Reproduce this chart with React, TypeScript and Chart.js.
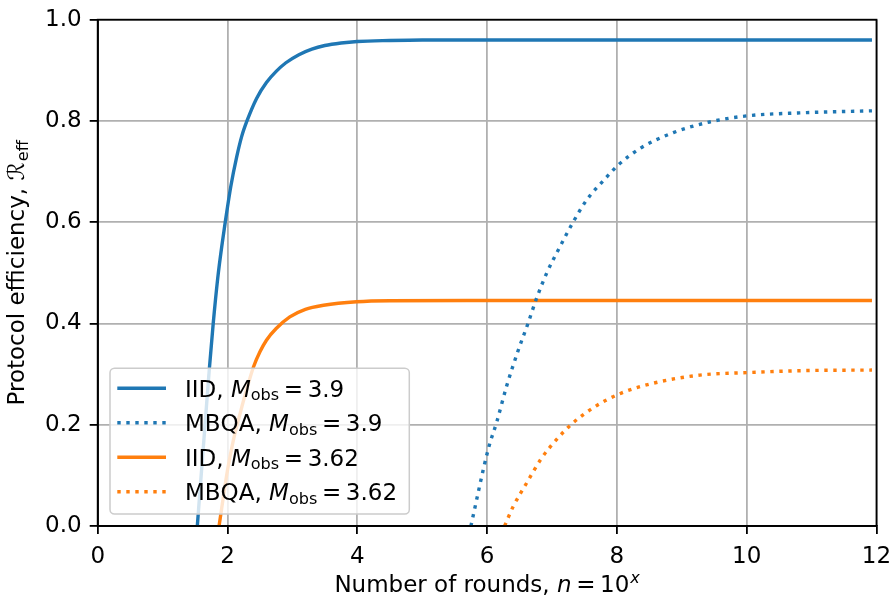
import React, { useEffect, useRef } from "react";
import { Chart, registerables } from "chart.js";

Chart.register(...registerables);

// ---------- data ----------
const iid39X = [1.535, 1.6, 1.66, 1.72, 1.78, 1.85, 1.92, 1.965, 2.05, 2.14, 2.22, 2.3, 2.45, 2.6, 2.75, 2.9, 3.1, 3.3, 3.5, 3.75, 4.0, 4.5, 5, 6, 8, 10, 11.93];
const iid39Y = [0, 0.11, 0.21, 0.31, 0.4, 0.49, 0.56, 0.6, 0.67, 0.728, 0.77, 0.8, 0.845, 0.876, 0.898, 0.915, 0.931, 0.942, 0.949, 0.954, 0.957, 0.959, 0.96, 0.96, 0.96, 0.96, 0.96];

const mbqa39X = [5.75, 6.02, 6.15, 6.3, 6.48, 6.63, 6.76, 6.92, 7.12, 7.32, 7.53, 7.82, 8.02, 8.36, 8.87, 9.43, 10.0, 10.82, 11.93];
const mbqa39Y = [0, 0.153, 0.206, 0.276, 0.347, 0.4, 0.449, 0.5, 0.551, 0.599, 0.643, 0.686, 0.713, 0.746, 0.777, 0.798, 0.81, 0.816, 0.82];

const iid362X = [1.87, 2.0, 2.09, 2.2, 2.3, 2.4, 2.5, 2.6, 2.75, 2.96, 3.2, 3.48, 3.99, 4.5, 6, 8, 11.93];
const iid362Y = [0, 0.11, 0.169, 0.225, 0.272, 0.314, 0.344, 0.367, 0.39, 0.413, 0.428, 0.436, 0.443, 0.445, 0.4455, 0.4455, 0.4455];

const mbqa362X = [6.27, 6.4, 6.61, 6.84, 7.1, 7.3, 7.64, 8.02, 8.56, 9.28, 10.0, 10.92, 11.93];
const mbqa362Y = [0, 0.038, 0.085, 0.134, 0.175, 0.201, 0.234, 0.26, 0.282, 0.298, 0.303, 0.307, 0.308];

const seriesProtocols = ["IID", "MBQA", "IID", "MBQA"];
const seriesMobs = ["3.9", "3.9", "3.62", "3.62"];
const seriesColors = ["#1f77b4", "#1f77b4", "#ff7f0e", "#ff7f0e"];
const seriesDotted = [false, true, false, true];

const xTicks = [0, 2, 4, 6, 8, 10, 12];
const yTicks = [0, 0.2, 0.4, 0.6, 0.8, 1.0];

// ---------- style ----------
const FONT = "'DejaVu Sans', sans-serif";
const FS = 23;
const LW = 3.4;
const DOT = [3.4, 5.6];

type Piece = { t: string; it?: boolean; sub?: boolean; sup?: boolean; gap?: number };

function pieceFont(p: Piece) {
  const size = p.sub || p.sup ? FS * 0.7 : FS;
  return `${p.it ? "italic " : ""}${size}px ${FONT}`;
}

function richWidth(ctx: CanvasRenderingContext2D, pieces: Piece[]) {
  let w = 0;
  for (const p of pieces) {
    ctx.font = pieceFont(p);
    w += (p.gap || 0) + ctx.measureText(p.t).width;
  }
  return w;
}

function drawRich(ctx: CanvasRenderingContext2D, x: number, y: number, pieces: Piece[]) {
  let cx = x;
  ctx.textBaseline = "alphabetic";
  ctx.textAlign = "left";
  for (const p of pieces) {
    cx += p.gap || 0;
    ctx.font = pieceFont(p);
    let dy = 0;
    if (p.sub) dy = FS * 0.17;
    if (p.sup) dy = -FS * 0.36;
    ctx.fillText(p.t, cx, y + dy);
    cx += ctx.measureText(p.t).width;
  }
}

const REL = FS * 0.2;

const decorPlugin = {
  id: "decor",
  afterDraw(chart: any) {
    const { ctx, chartArea } = chart;
    const { left, right, top, bottom } = chartArea;
    ctx.save();
    // frame (all four spines)
    ctx.strokeStyle = "#000";
    ctx.lineWidth = 1.8;
    ctx.strokeRect(left, top, right - left, bottom - top);

    // legend
    const lx = 110, ly = 368.3, lw = 299.3, lh = 145.7, r = 4.5;
    ctx.beginPath();
    ctx.moveTo(lx + r, ly);
    ctx.lineTo(lx + lw - r, ly);
    ctx.arcTo(lx + lw, ly, lx + lw, ly + r, r);
    ctx.lineTo(lx + lw, ly + lh - r);
    ctx.arcTo(lx + lw, ly + lh, lx + lw - r, ly + lh, r);
    ctx.lineTo(lx + r, ly + lh);
    ctx.arcTo(lx, ly + lh, lx, ly + lh - r, r);
    ctx.lineTo(lx, ly + r);
    ctx.arcTo(lx, ly, lx + r, ly, r);
    ctx.closePath();
    ctx.fillStyle = "rgba(255,255,255,0.8)";
    ctx.fill();
    ctx.strokeStyle = "#cccccc";
    ctx.lineWidth = 1.5;
    ctx.stroke();

    const rows = [388.3, 422.7, 457.3, 491.7];
    ctx.fillStyle = "#000";
    for (let i = 0; i < 4; i++) {
      const y = rows[i];
      ctx.beginPath();
      ctx.strokeStyle = seriesColors[i];
      ctx.lineWidth = LW;
      ctx.lineCap = "butt";
      ctx.setLineDash(seriesDotted[i] ? DOT : []);
      ctx.moveTo(117.3, y);
      ctx.lineTo(166, y);
      ctx.stroke();
      ctx.setLineDash([]);
      drawRich(ctx, 185, y + FS * 0.36, [
        { t: seriesProtocols[i] + ", " },
        { t: "M", it: true },
        { t: "obs", sub: true },
        { t: "=", gap: REL },
        { t: seriesMobs[i], gap: REL },
      ]);
    }

    // x title
    const xPieces: Piece[] = [
      { t: "Number of rounds, " },
      { t: "n", it: true },
      { t: "=", gap: REL },
      { t: "10", gap: REL },
      { t: "x", it: true, sup: true, gap: 1 },
    ];
    const xw = richWidth(ctx, xPieces);
    ctx.fillStyle = "#000";
    drawRich(ctx, (left + right) / 2 - xw / 2, 591.5, xPieces);

    // y title
    const yPieces: Piece[] = [
      { t: "Protocol efficiency, " },
      { t: "\u211B" },
      { t: "eff", sub: true, gap: 1 },
    ];
    const yw = richWidth(ctx, yPieces);
    ctx.translate(24.3, (top + bottom) / 2);
    ctx.rotate(-Math.PI / 2);
    drawRich(ctx, -yw / 2, 0, yPieces);
    ctx.restore();
  },
};

function mk(xs: number[], ys: number[], i: number) {
  return {
    label: `${seriesProtocols[i]}, M_obs = ${seriesMobs[i]}`,
    data: xs.map((x, k) => ({ x, y: ys[k] })),
    borderColor: seriesColors[i],
    backgroundColor: seriesColors[i],
    borderWidth: LW,
    borderDash: seriesDotted[i] ? DOT : [],
    borderCapStyle: "butt",
    pointRadius: 0,
    cubicInterpolationMode: "monotone",
    fill: false,
    clip: 0,
  };
}

export default function App() {
  const ref = useRef<HTMLCanvasElement | null>(null);
  useEffect(() => {
    if (!ref.current) return;
    const chart = new Chart(ref.current, {
      type: "line",
      data: {
        datasets: [
          mk(iid39X, iid39Y, 0),
          mk(mbqa39X, mbqa39Y, 1),
          mk(iid362X, iid362Y, 2),
          mk(mbqa362X, mbqa362Y, 3),
        ] as any,
      },
      options: {
        responsive: false,
        devicePixelRatio: 1,
        animation: false,
        layout: { padding: { left: 0, top: 19.7, right: 16.5, bottom: 0 } },
        plugins: { legend: { display: false }, tooltip: { enabled: false }, title: { display: false } },
        scales: {
          x: {
            type: "linear",
            min: 0,
            max: 12,
            afterBuildTicks: (s: any) => { s.ticks = xTicks.map((v) => ({ value: v })); },
            afterFit: (s: any) => { s.height = 69; s.paddingLeft = 0; s.paddingRight = 0; },
            ticks: {
              font: { family: FONT, size: FS },
              color: "#000",
              padding: 9,
              maxRotation: 0,
              autoSkip: false,
              callback: (v: any) => String(v),
            },
            grid: { color: "#b0b0b0", lineWidth: 1.8, tickColor: "#000", tickLength: 8, tickWidth: 1.8 },
            border: { color: "#000", width: 1.8 },
          },
          y: {
            type: "linear",
            min: 0,
            max: 1,
            afterBuildTicks: (s: any) => { s.ticks = yTicks.map((v) => ({ value: v })); },
            afterFit: (s: any) => { s.width = 97.7; s.paddingTop = 0; s.paddingBottom = 0; },
            ticks: {
              font: { family: FONT, size: FS },
              color: "#000",
              padding: 8,
              autoSkip: false,
              callback: (v: any) => Number(v).toFixed(1),
            },
            grid: { color: "#b0b0b0", lineWidth: 1.8, tickColor: "#000", tickLength: 8, tickWidth: 1.8 },
            border: { color: "#000", width: 1.8 },
          },
        },
      } as any,
      plugins: [decorPlugin],
    });
    return () => chart.destroy();
  }, []);
  return (
    <div style={{ position: "absolute", left: 0, top: 0, width: 893, height: 595, background: "#fff" }}>
      <canvas ref={ref} width={893} height={595} style={{ display: "block", width: 893, height: 595 }} />
    </div>
  );
}
